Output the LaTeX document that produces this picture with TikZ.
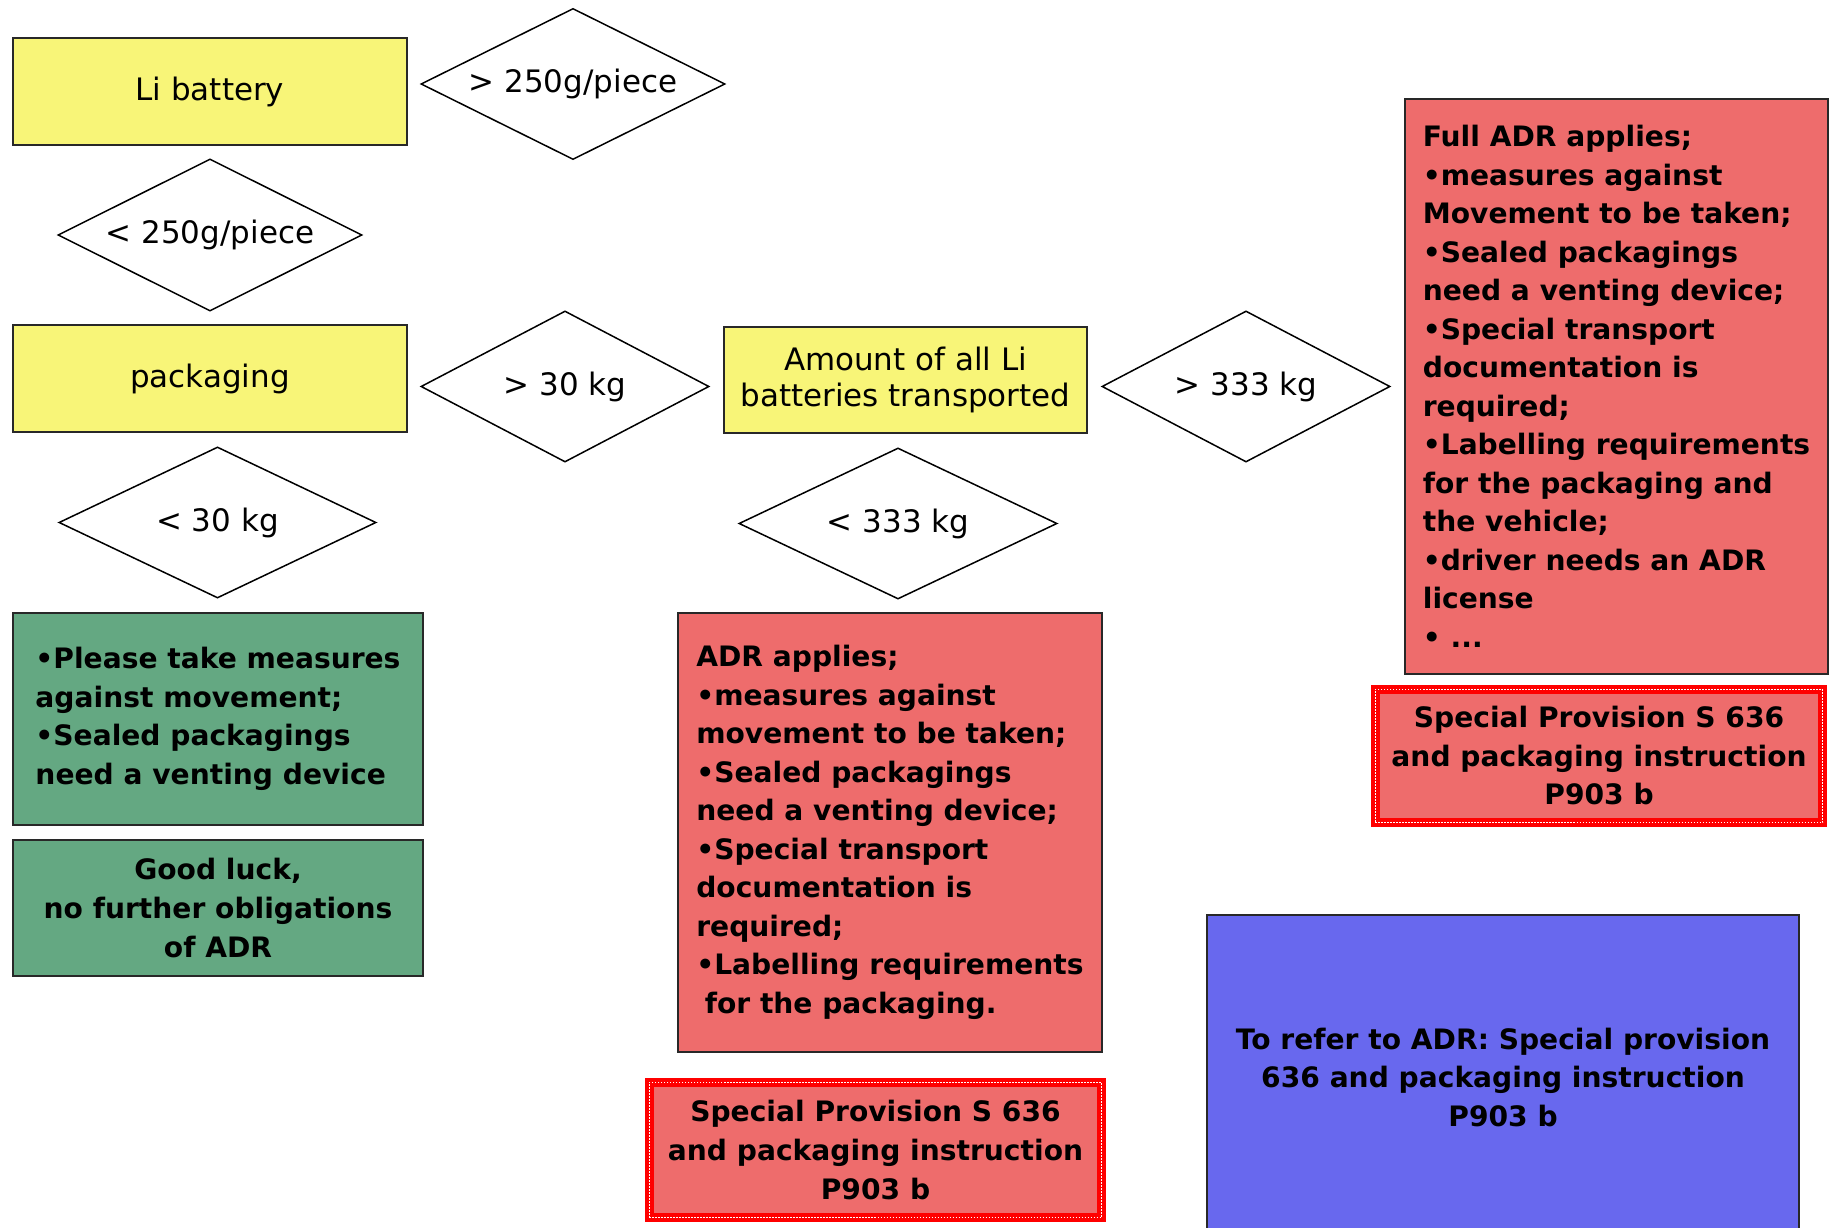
\documentclass[tikz,border=0pt]{standalone}
\usepackage{fontspec}
\setmainfont{DejaVu Sans}
\usetikzlibrary{shapes.geometric}

\definecolor{batyellow}{RGB}{248,245,120}
\definecolor{okgreen}{RGB}{100,168,130}
\definecolor{adrred}{RGB}{238,108,108}
\definecolor{referblue}{RGB}{104,104,238}
\definecolor{boxline}{RGB}{40,40,40}

\begin{document}
\begin{tikzpicture}[x = 0.01cm, y = -0.01cm,
	plain/.style = {font = \fontsize{8.8}{10.5}\selectfont},
	heavy/.style = {font = \fontsize{8}{10.95}\selectfont\bfseries},
	question/.style = {draw = black, line width = 0.015cm,
					 shape = diamond, aspect = 2, inner sep = 0pt,
					 fill = white, plain},
	start/.style = {draw = boxline, line width = 0.015cm,
					 shape = rectangle, fill = batyellow,
					 align = center, plain},
	result/.style = {draw = boxline, line width = 0.015cm,
					 shape = rectangle, heavy},
	provision/.style = {draw = red, line width = 0.09cm,
					 shape = rectangle, fill = adrred,
					 align = center, heavy,
					 postaction = {draw = white, line width = 0.015cm,
					 dash pattern = on 0.015cm off 0.015cm}}]

	\useasboundingbox (0,0) rectangle (1831,1228);

	\draw (210,91.5) node[start,
					 minimum width = 3.94cm,
					 minimum height = 1.07cm] (Bat) {Li battery};

	\draw (573,84) node[question,
					 minimum width = 3.04cm,
					 minimum height = 1.51cm] (Gt250) {> 250g/piece};

	\draw (210,235) node[question,
					 minimum width = 3.04cm,
					 minimum height = 1.52cm] (Lt250) {< 250g/piece};

	\draw (210,378.5) node[start,
					 minimum width = 3.94cm,
					 minimum height = 1.07cm] (Pack) {packaging};

	\draw (565,386.5) node[question,
					 minimum width = 2.88cm,
					 minimum height = 1.51cm] (Gt30) {> 30 kg};

	\draw (217.5,522.5) node[question,
					 minimum width = 3.17cm,
					 minimum height = 1.51cm] (Lt30) {< 30 kg};

	\draw (905.5,380) node[start,
					 minimum width = 3.63cm,
					 minimum height = 1.06cm] (Amt) {Amount of all Li\\batteries transported};

	\draw (1246,386.5) node[question,
					 minimum width = 2.88cm,
					 minimum height = 1.51cm] (Gt333) {> 333 kg};

	\draw (898,523.5) node[question,
					 minimum width = 3.18cm,
					 minimum height = 1.51cm] (Lt333) {< 333 kg};

	\draw (218,719) node[result, fill = okgreen, align = left,
					 minimum width = 4.10cm,
					 minimum height = 2.12cm] (Meas) {•Please take measures\\against movement;\\•Sealed packagings\\need a venting device};

	\draw (218,908) node[result, fill = okgreen, align = center,
					 minimum width = 4.10cm,
					 minimum height = 1.36cm] (Luck) {Good luck,\\no further obligations\\of ADR};

	\draw (890,832.5) node[result, fill = adrred, align = left,
					 minimum width = 4.24cm,
					 minimum height = 4.39cm] (Adr) {ADR applies;\\•measures against\\movement to be taken;\\•Sealed packagings\\need a venting device;\\•Special transport\\documentation is\\required;\\•Labelling requirements\\\hspace*{0.3em}for the packaging.};

	\draw (875.5,1150) node[provision,
					 minimum width = 4.52cm,
					 minimum height = 1.35cm] (SpA) {Special Provision S 636\\and packaging instruction\\P903 b};

	\draw (1616.5,386.5) node[result, fill = adrred, align = left,
					 minimum width = 4.23cm,
					 minimum height = 5.75cm] (FullAdr) {Full ADR applies;\\•measures against\\Movement to be taken;\\•Sealed packagings\\need a venting device;\\•Special transport\\documentation is\\required;\\•Labelling requirements\\for the packaging and\\the vehicle;\\•driver needs an ADR\\license\\• ...};

	\draw (1599,756) node[provision,
					 minimum width = 4.47cm,
					 minimum height = 1.33cm] (SpB) {Special Provision S 636\\and packaging instruction\\P903 b};

	\draw (1503,1077.5) node[result, fill = referblue, align = center,
					 minimum width = 5.92cm,
					 minimum height = 3.25cm] (Refer) {To refer to ADR: Special provision\\636 and packaging instruction\\P903 b};
\end{tikzpicture}
\end{document}
